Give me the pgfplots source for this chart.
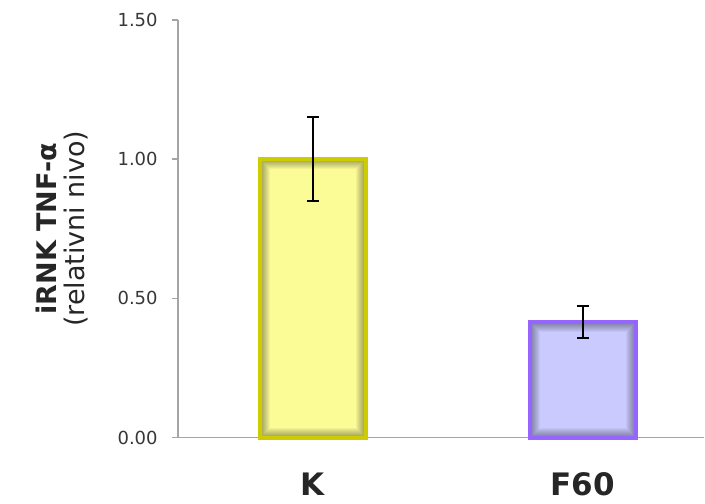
\documentclass[border=0pt]{standalone}
\usepackage{pgfplots}
\pgfplotsset{compat=1.18}
\usepackage{fontspec}
\setmainfont{DejaVu Sans}
\definecolor{ybarc}{RGB}{252,252,150}
\definecolor{yedge}{RGB}{204,204,0}
\definecolor{pbarc}{RGB}{202,202,255}
\definecolor{pedge}{RGB}{150,100,255}
\definecolor{axgray}{RGB}{165,165,165}
\definecolor{txt}{RGB}{55,55,55}
\tikzset{innershadow/.style={path picture={%
  \pgfsetstrokecolor{black}\pgfsetstrokeopacity{0.045}%
  \foreach \w in {2,4,6,8,10,12,14,16,18,20} {\pgfsetlinewidth{\w pt}%
    \pgfpathrectanglecorners{\pgfpointanchor{path picture bounding box}{south west}}{\pgfpointanchor{path picture bounding box}{north east}}%
    \pgfusepath{stroke}}%
}}}
\begin{document}
\begin{tikzpicture}
\begin{axis}[name=ax, scale only axis, width=527pt, height=418pt,
  xmin=-0.5, xmax=1.45, ymin=0, ymax=1.5,
  axis x line*=bottom, axis y line*=left,
  axis line style={axgray, line width=1.5pt},
  tick align=outside, major tick length=6pt,
  ytick={0,0.5,1,1.5},
  ytick style={axgray, line width=1.5pt},
  yticklabel={\pgfmathprintnumber[fixed, fixed zerofill, precision=2, assume math mode=true]{\tick}},
  yticklabel style={font=\fontsize{18}{20}\selectfont, text=txt, anchor=east, inner sep=0pt, xshift=-14pt},
  xtick={0,1}, xticklabels={K,F60}, xtick style={draw=none},
  xticklabel style={font=\bfseries\fontsize{31}{33}\selectfont, text=black!85, anchor=base, inner sep=0pt, yshift=-52pt},
  ylabel={\textbf{iRNK TNF-α}\\(relativni nivo)},
  ylabel style={align=center, font=\fontsize{27}{28}\selectfont, text=black!85, at={(axis description cs:-0.2201,0.5)}, anchor=center, inner sep=0pt},
  clip=false]
\addplot[ybar, bar width=106pt, fill=ybarc, draw=yedge, line width=4pt, innershadow] coordinates {(0,1.0)};
\addplot[ybar, bar width=106pt, fill=pbarc, draw=pedge, line width=4pt, innershadow] coordinates {(1,0.415)};
\addplot[draw=none, forget plot, error bars/.cd, y dir=both, y explicit,
  error bar style={draw=black, line width=2pt},
  error mark options={rotate=90, mark size=6pt, draw=black, line width=2pt}]
  coordinates {(0,1.0) +- (0,0.15) (1,0.415) +- (0,0.058)};
\end{axis}
\path (ax.south west) ++(-178pt,-66pt) rectangle ++(705pt,504pt);
\end{tikzpicture}
\end{document}
